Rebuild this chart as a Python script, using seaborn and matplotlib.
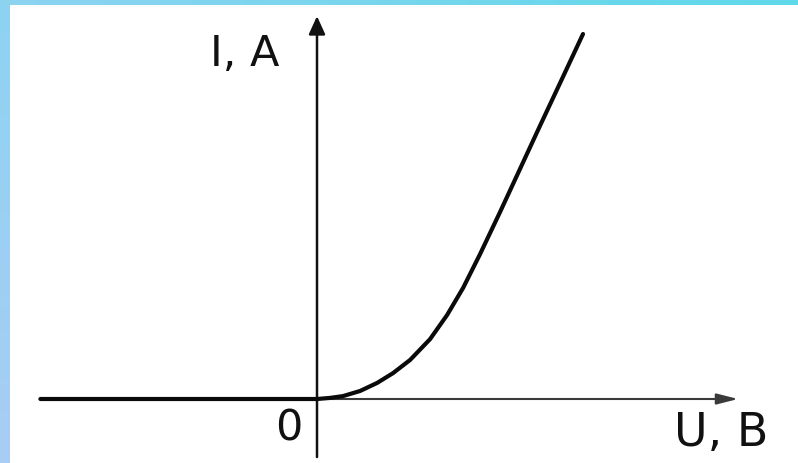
import numpy as np
import pandas as pd
import seaborn as sns
import matplotlib.pyplot as plt

# I-V curve of a diode (arbitrary units)
U = [-10.4, 0.0, 0.49, 0.98, 1.62, 2.26, 2.86, 3.5, 4.25, 4.89, 5.49, 6.13, 6.88, 7.63, 8.38, 9.14, 10.0]
I = [0.0, 0.0, 0.03, 0.08, 0.22, 0.44, 0.71, 1.07, 1.64, 2.3, 3.04, 3.97, 5.12, 6.3, 7.48, 8.66, 10.0]

x_label = "U, B"
y_label = "I, A"
origin_label = "0"

df = pd.DataFrame({"U": U, "I": I})

sns.set_style("white")
plt.rcParams["font.family"] = ["DejaVu Sans"]

W, H = 798, 464
fig = plt.figure(figsize=(W / 100, H / 100), dpi=100)

# light blue frame on the left and top
bg = np.ones((H, W, 3))
left_top = np.array([0x8d, 0xd3, 0xf1]) / 255
left_bot = np.array([0xa9, 0xcd, 0xf5]) / 255
top_right = np.array([0x5f, 0xd9, 0xea]) / 255
t = np.linspace(0, 1, H)[:, None]
bg[:, :10] = (left_top * (1 - t) + left_bot * t)[:, None, :]
s = np.linspace(0, 1, W)[:, None]
bg[:6, :] = (left_top * (1 - s) + top_right * s)[None, :, :]
bax = fig.add_axes([0, 0, 1, 1])
bax.imshow(bg, aspect="auto", interpolation="bilinear")
bax.axis("off")

ax = fig.add_axes([0, 0, 1, 1])
ax.set_facecolor("none")
# 1 unit on U = 26.6 px, 1 unit on I = 36.5 px, origin at (317, 400) px
ax.set_xlim(-317 / 26.6, (W - 317) / 26.6)
ax.set_ylim(-(H - 400) / 36.5, 400 / 36.5)
ax.axis("off")

# axes with arrows
ax.annotate("", xy=(15.83, 0), xytext=(0, 0),
            arrowprops=dict(arrowstyle="-|>,head_length=1.3,head_width=0.33",
                            lw=1.5, color="#3a3a3a", shrinkA=0, shrinkB=0))
ax.annotate("", xy=(0, 10.49), xytext=(0, -1.59),
            arrowprops=dict(arrowstyle="-|>,head_length=1.1,head_width=0.5",
                            lw=1.8, color="#111111", shrinkA=0, shrinkB=0))

sns.lineplot(data=df, x="U", y="I", ax=ax, color="#0a0a0a", lw=3,
             solid_capstyle="round", solid_joinstyle="round", zorder=5)

ax.text(-2.71, 9.48, y_label, fontsize=31, ha="center", va="center", color="#111111")
ax.text(-1.05, -0.77, origin_label, fontsize=31, ha="center", va="center", color="#111111")
ax.text(15.19, -0.93, x_label, fontsize=33, ha="center", va="center", color="#111111")

fig.savefig("out.png", dpi=100)
